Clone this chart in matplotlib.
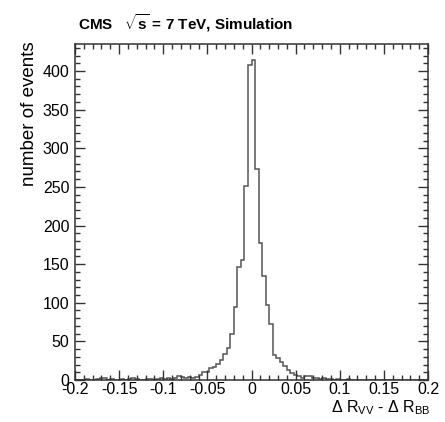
import matplotlib
matplotlib.use('Agg')
import matplotlib.pyplot as plt
import numpy as np
from matplotlib.ticker import MultipleLocator, FixedFormatter, FixedLocator

plt.rcParams['font.family'] = ['Liberation Sans', 'DejaVu Sans']
plt.rcParams['mathtext.fontset'] = 'custom'
plt.rcParams['mathtext.rm'] = 'Liberation Sans'
plt.rcParams['mathtext.bf'] = 'Liberation Sans:bold'
plt.rcParams['mathtext.it'] = 'Liberation Sans:italic'

# histogram: 100 bins from -0.2 to 0.2
x_min = -0.2
x_max = 0.2
counts = [0, 0, 0, 1, 0, 0, 1, 3, 2, 0,
          1, 0, 0, 1, 0, 1, 2, 1, 0, 0,
          1, 1, 0, 1, 2, 1, 2, 1, 3, 5,
          4, 3, 4, 3, 4, 7, 11, 10, 15, 17,
          21, 26, 34, 41, 59, 94, 146, 156, 251, 408,
          414, 273, 178, 135, 97, 73, 32, 28, 23, 18,
          13, 9, 6, 5, 3, 5, 5, 2, 2, 1,
          2, 1, 1, 0, 1, 0, 0, 1, 0, 0,
          0, 0, 0, 0, 0, 0, 0, 0, 0, 0,
          0, 0, 0, 0, 0, 0, 0, 0, 0, 0]
edges = np.linspace(x_min, x_max, len(counts) + 1)

x_ticks = [-0.2, -0.15, -0.1, -0.05, 0, 0.05, 0.1, 0.15, 0.2]
x_ticklabels = ['-0.2', '-0.15', '-0.1', '-0.05', '0', '0.05', '0.1', '0.15', '0.2']
y_ticks = [0, 50, 100, 150, 200, 250, 300, 350, 400]

fig = plt.figure(figsize=(4.45, 4.22), dpi=100)
ax = fig.add_axes([75/445, 42/422, 353/445, 336/422])

ax.stairs(counts, edges, color='#555555', linewidth=1.1)

ax.set_xlim(x_min, x_max)
ax.set_ylim(0, 435)

ax.xaxis.set_major_locator(FixedLocator(x_ticks))
ax.xaxis.set_major_formatter(FixedFormatter(x_ticklabels))
ax.xaxis.set_minor_locator(MultipleLocator(0.01))
ax.yaxis.set_major_locator(FixedLocator(y_ticks))
ax.yaxis.set_minor_locator(MultipleLocator(10))

ax.tick_params(which='both', direction='in', top=True, right=True, width=1, color='#333333')
ax.tick_params(which='major', length=7.5, labelsize=11.5)
ax.tick_params(which='minor', length=3.8)
ax.tick_params(axis='x', pad=1.5)
ax.tick_params(axis='y', pad=4)
for s in ax.spines.values():
    s.set_linewidth(1.1)
    s.set_color('#333333')

fig.text(78/445, 1 - 23/422, r'CMS   $\mathbf{\sqrt{s}}$ = 7 TeV, Simulation',
         fontsize=11, fontweight='bold', ha='left', va='center')
fig.text(30/445, 1 - 41/422, 'number of events', fontsize=13.5, rotation=90,
         ha='center', va='top')
fig.text(431/445, 1 - 408/422, r'$\Delta$ R$_{\rm VV}$ - $\Delta$ R$_{\rm BB}$',
         fontsize=11.5, ha='right', va='center')

plt.savefig('out.png', dpi=100)
